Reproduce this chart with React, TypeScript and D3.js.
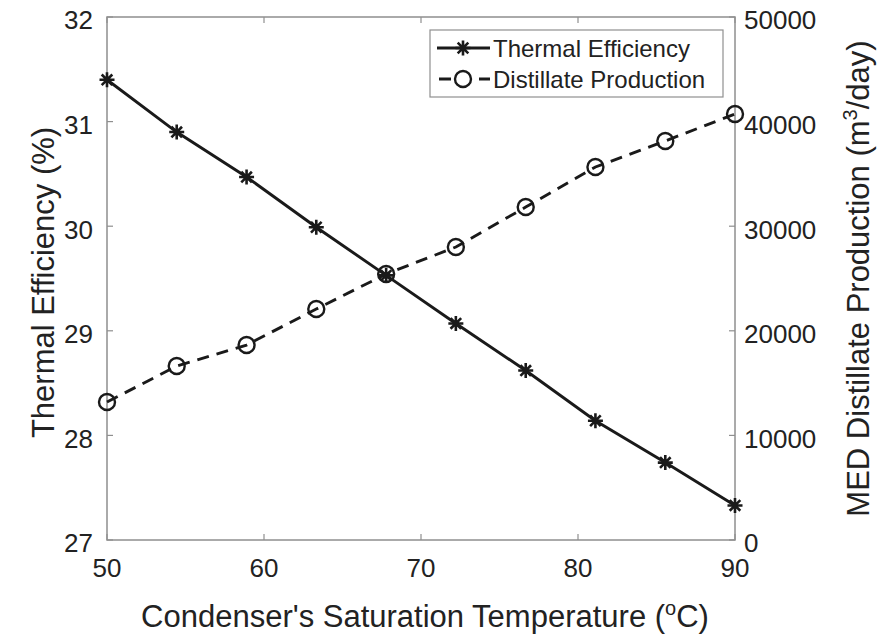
import React from 'react';
import * as d3 from 'd3';

// condenser saturation temperature (°C)
const temps = [50, 54.44, 58.89, 63.33, 67.78, 72.22, 76.67, 81.11, 85.56, 90];
// thermal efficiency (%)
const efficiency = [31.4, 30.9, 30.47, 29.99, 29.53, 29.07, 28.62, 28.14, 27.74, 27.33];
// MED distillate production (m3/day)
const distillate = [13190, 16630, 18640, 22080, 25430, 28010, 31830, 35660, 38150, 40730];

const xTicks = [50, 60, 70, 80, 90];
const leftTicks = [27, 28, 29, 30, 31, 32];
const rightTicks = [0, 10000, 20000, 30000, 40000, 50000];

const W = 896;
const H = 635;
const margin = { top: 17, right: 161, bottom: 95, left: 107 };
const FONT = '"Liberation Sans", Arial, Helvetica, sans-serif';
const AXIS = '#8f8f8f';
const INK = '#1a1a1a';

const Asterisk = ({ x, y, r = 7.5 }: { x: number; y: number; r?: number }) => {
  const d = [0, 45, 90, 135]
    .map(a => {
      const t = (a * Math.PI) / 180;
      return `M${x - r * Math.cos(t)},${y - r * Math.sin(t)}L${x + r * Math.cos(t)},${y + r * Math.sin(t)}`;
    })
    .join('');
  return <path d={d} stroke={INK} strokeWidth={2.6} fill="none" />;
};

const App = () => {
  const x0 = margin.left;
  const x1 = W - margin.right;
  const y0 = H - margin.bottom;
  const y1 = margin.top;

  const x = d3.scaleLinear().domain([50, 90]).range([x0, x1]);
  const yL = d3.scaleLinear().domain([27, 32]).range([y0, y1]);
  const yR = d3.scaleLinear().domain([0, 50000]).range([y0, y1]);

  const effLine = d3
    .line<number>()
    .x((_, i) => x(temps[i]))
    .y(d => yL(d));
  const disLine = d3
    .line<number>()
    .x((_, i) => x(temps[i]))
    .y(d => yR(d));

  const tickLen = 6;
  const legend = { x: 430, y: 30, w: 293, h: 67 };
  const tickFont = 26;
  const titleFont = 31;

  return (
    <svg
      width={W}
      height={H}
      style={{ position: 'absolute', left: 0, top: 0, background: '#fff' }}
      fontFamily={FONT}
    >
      <rect x={0} y={0} width={W} height={H} fill="#fff" />

      {/* axes box */}
      <rect x={x0} y={y1} width={x1 - x0} height={y0 - y1} fill="none" stroke={AXIS} strokeWidth={1.5} />

      {/* x ticks */}
      {xTicks.map(t => (
        <g key={`x${t}`}>
          <line x1={x(t)} x2={x(t)} y1={y0} y2={y0 - tickLen} stroke={AXIS} strokeWidth={1.2} />
          <line x1={x(t)} x2={x(t)} y1={y1} y2={y1 + tickLen} stroke={AXIS} strokeWidth={1.2} />
          <text x={x(t)} y={y0 + 37} textAnchor="middle" fontSize={tickFont} fill="#222">
            {t}
          </text>
        </g>
      ))}

      {/* left ticks */}
      {leftTicks.map(t => (
        <g key={`l${t}`}>
          <line x1={x0} x2={x0 + tickLen} y1={yL(t)} y2={yL(t)} stroke={AXIS} strokeWidth={1.2} />
          <text x={x0 - 14} y={yL(t) + 3} dy="0.36em" textAnchor="end" fontSize={tickFont} fill="#222">
            {t}
          </text>
        </g>
      ))}

      {/* right ticks */}
      {rightTicks.map(t => (
        <g key={`r${t}`}>
          <line x1={x1} x2={x1 - tickLen} y1={yR(t)} y2={yR(t)} stroke={AXIS} strokeWidth={1.2} />
          <text x={x1 + 9} y={yR(t) + 3} dy="0.36em" textAnchor="start" fontSize={tickFont} fill="#222">
            {t}
          </text>
        </g>
      ))}

      {/* axis titles */}
      <text x={(x0 + x1) / 2 + 4} y={H - 8} textAnchor="middle" fontSize={titleFont} fill="#222">
        Condenser's Saturation Temperature (
        <tspan dy={-12} fontSize={20}>o</tspan>
        <tspan dy={12}>C)</tspan>
      </text>
      <text
        transform={`translate(54,${(y0 + y1) / 2 + 4}) rotate(-90)`}
        textAnchor="middle"
        fontSize={titleFont}
        fill="#222"
      >
        Thermal Efficiency (%)
      </text>
      <text
        transform={`translate(869,${(y0 + y1) / 2}) rotate(-90)`}
        textAnchor="middle"
        fontSize={titleFont}
        fill="#222"
      >
        MED Distillate Production (m
        <tspan dy={-12} fontSize={20}>3</tspan>
        <tspan dy={12}>/day)</tspan>
      </text>

      {/* series */}
      <path d={effLine(efficiency) ?? ''} fill="none" stroke={INK} strokeWidth={2.9} />
      {efficiency.map((v, i) => (
        <Asterisk key={`e${i}`} x={x(temps[i])} y={yL(v)} />
      ))}
      <path
        d={disLine(distillate) ?? ''}
        fill="none"
        stroke={INK}
        strokeWidth={2.9}
        strokeDasharray="12,8"
      />
      {distillate.map((v, i) => (
        <circle key={`d${i}`} cx={x(temps[i])} cy={yR(v)} r={8} fill="none" stroke={INK} strokeWidth={2.4} />
      ))}

      {/* legend */}
      <rect x={legend.x} y={legend.y} width={legend.w} height={legend.h} fill="#fff" stroke={AXIS} strokeWidth={1.2} />
      <line x1={legend.x + 7} x2={legend.x + 60} y1={legend.y + 18} y2={legend.y + 18} stroke={INK} strokeWidth={2.9} />
      <Asterisk x={legend.x + 33} y={legend.y + 18} />
      <text x={legend.x + 63} y={legend.y + 18} dy="0.36em" fontSize={24} fill="#222">
        Thermal Efficiency
      </text>
      <line
        x1={legend.x + 7}
        x2={legend.x + 60}
        y1={legend.y + 49}
        y2={legend.y + 49}
        stroke={INK}
        strokeWidth={2.9}
        strokeDasharray="12,8"
        strokeDashoffset={-2}
      />
      <circle cx={legend.x + 33} cy={legend.y + 49} r={8} fill="#fff" stroke={INK} strokeWidth={2.4} />
      <text x={legend.x + 63} y={legend.y + 49} dy="0.36em" fontSize={24} fill="#222">
        Distillate Production
      </text>
    </svg>
  );
};

export default App;
